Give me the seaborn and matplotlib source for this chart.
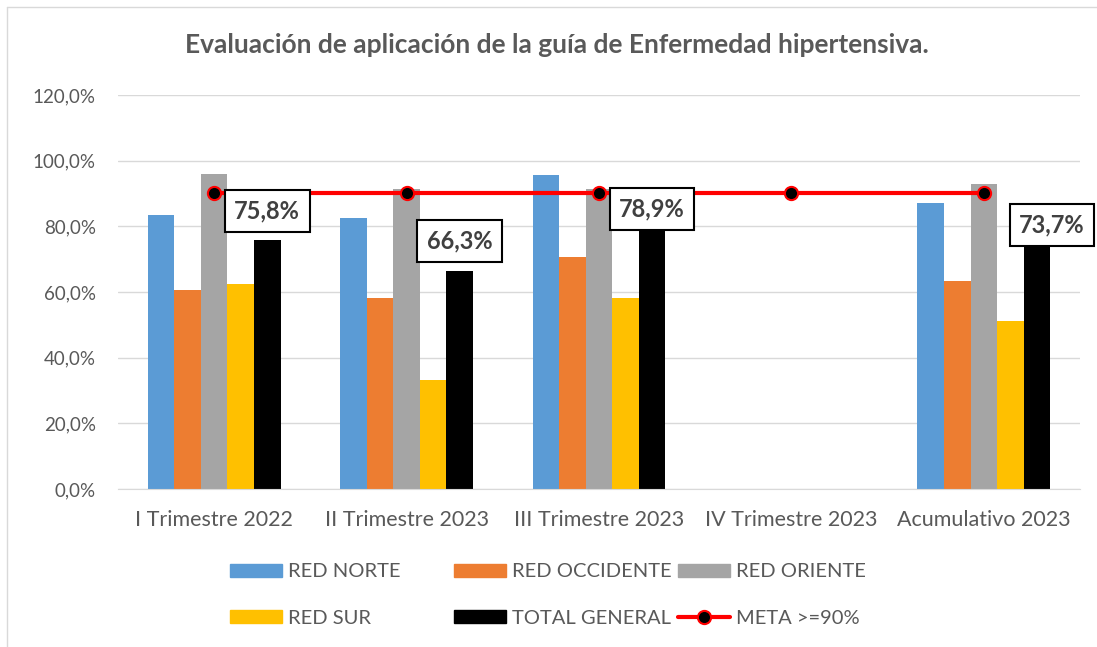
import numpy as np
import pandas as pd
import matplotlib.pyplot as plt
import matplotlib.ticker as mticker
from matplotlib.patches import Patch
from matplotlib.lines import Line2D
import seaborn as sns

# datos
trimestres = ['I Trimestre 2022', 'II Trimestre 2023', 'III Trimestre 2023',
              'IV Trimestre 2023', 'Acumulativo 2023']
red_norte = [0.833, 0.825, 0.956, np.nan, 0.872]
red_occidente = [0.607, 0.582, 0.706, np.nan, 0.632]
red_oriente = [0.958, 0.915, 0.915, np.nan, 0.930]
red_sur = [0.624, 0.331, 0.582, np.nan, 0.513]
total_general = [0.758, 0.663, 0.789, np.nan, 0.737]
meta = [0.90, 0.90, 0.90, 0.90, 0.90]

series = ['RED NORTE', 'RED OCCIDENTE', 'RED ORIENTE', 'RED SUR', 'TOTAL GENERAL']
colores = ['#5B9BD5', '#ED7D31', '#A5A5A5', '#FFC000', '#000000']

df = pd.DataFrame({
    'trimestre': trimestres * 5,
    'red': np.repeat(series, 5),
    'valor': red_norte + red_occidente + red_oriente + red_sur + total_general,
})

sns.set_style('white')
plt.rcParams['font.family'] = ['Lato', 'DejaVu Sans']
gris = '#595959'

W, H = 1097, 647
fig = plt.figure(figsize=(W / 100, H / 100), dpi=100)
ax = fig.add_axes([118 / W, 1 - 489 / H, 962 / W, 394 / H])

sns.barplot(data=df, x='trimestre', y='valor', hue='red', order=trimestres,
            hue_order=series, palette=colores, saturation=1, width=0.69, gap=0,
            errorbar=None, linewidth=0, legend=False, ax=ax)

sns.pointplot(x=trimestres, y=meta, color='#FF0000', markers='o',
              errorbar=None, ax=ax)
ln = ax.lines[-1]
ln.set_linewidth(3)
ln.set_markersize(9.5)
ln.set_markerfacecolor('black')
ln.set_markeredgecolor('#FF0000')
ln.set_markeredgewidth(1.5)
ln.set_zorder(4)

# etiquetas del total general
ancho = 0.69 / 5
dx = [0, 0, 0, 0, 15]
dy = [29, 30, 21, 0, 22]
for i, v in enumerate(total_general):
    if np.isnan(v):
        continue
    txt = f'{v * 100:.1f}%'.replace('.', ',')
    ax.annotate(txt, (i + 2 * ancho, v), xytext=(dx[i] * 0.72, dy[i] * 0.72),
                textcoords='offset points', ha='center', va='center',
                fontsize=17, fontweight='bold', color='#404040', zorder=6,
                bbox=dict(boxstyle='square,pad=0.4', fc='white', ec='black', lw=1.5))

ax.set_xlim(-0.5, 4.5)
ax.set_ylim(0, 1.2)
ax.yaxis.set_major_locator(mticker.MultipleLocator(0.2))
ax.yaxis.set_major_formatter(mticker.FuncFormatter(
    lambda v, p: f'{v * 100:.1f}%'.replace('.', ',')))
ax.grid(axis='y', color='#D9D9D9', lw=1)
ax.set_axisbelow(True)
for s in ['top', 'right', 'left']:
    ax.spines[s].set_visible(False)
ax.spines['bottom'].set_color('#D9D9D9')
ax.tick_params(axis='both', length=0, labelcolor=gris)
ax.tick_params(axis='y', pad=16, labelsize=13.5)
ax.tick_params(axis='x', pad=15, labelsize=15.5)
ax.set_xlabel('')
ax.set_ylabel('')

fig.text(0.508, 1 - 45 / H, 'Evaluación de aplicación de la guía de Enfermedad hipertensiva.',
         ha='center', va='center', fontsize=19, fontweight='bold', color=gris)

# leyenda en tres columnas
entradas = [
    [Patch(color=colores[0], label='RED NORTE'), Patch(color=colores[3], label='RED SUR')],
    [Patch(color=colores[1], label='RED OCCIDENTE'), Patch(color=colores[4], label='TOTAL GENERAL')],
    [Patch(color=colores[2], label='RED ORIENTE'),
     Line2D([], [], color='#FF0000', lw=3, marker='o', ms=9.5, mfc='black',
            mec='#FF0000', mew=1.5, label='META >=90%')],
]
for x0, h in zip([230, 454, 678], entradas):
    leg = fig.legend(handles=h, loc='center left', bbox_to_anchor=(x0 / W, 1 - 595 / H),
                     frameon=False, fontsize=14.5, handlelength=2.6, handleheight=0.65,
                     handletextpad=0.3, labelspacing=1.45, borderpad=0, borderaxespad=0)
    for t in leg.get_texts():
        t.set_color(gris)

# borde del area del grafico
fig.add_artist(Line2D([7 / W, 7 / W], [0, 1 - 7 / H], color='#D9D9D9', lw=1))
fig.add_artist(Line2D([7 / W, 1], [1 - 7 / H, 1 - 7 / H], color='#D9D9D9', lw=1))

fig.savefig('out.png', dpi=100)
